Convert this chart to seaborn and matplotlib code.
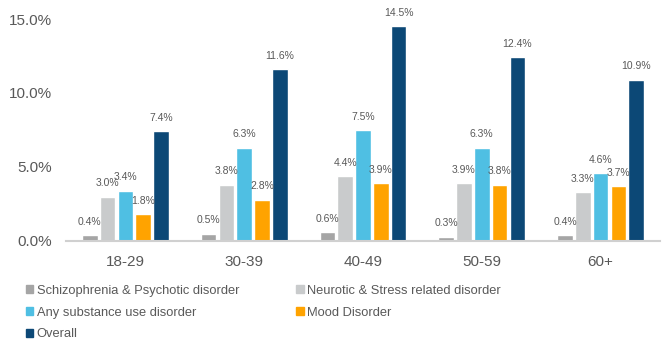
import matplotlib
matplotlib.use("Agg")
import matplotlib.pyplot as plt
import seaborn as sns
import pandas as pd
from matplotlib.patches import Patch

ages = ['18-29', '30-39', '40-49', '50-59', '60+']
series = ['Schizophrenia & Psychotic disorder', 'Neurotic & Stress related disorder',
          'Any substance use disorder', 'Mood Disorder', 'Overall']
schizo = [0.4, 0.5, 0.6, 0.3, 0.4]
neurotic = [3.0, 3.8, 4.4, 3.9, 3.3]
substance = [3.4, 6.3, 7.5, 6.3, 4.6]
mood = [1.8, 2.8, 3.9, 3.8, 3.7]
overall = [7.4, 11.6, 14.5, 12.4, 10.9]
colors = ['#a5a5a5', '#c9cbcc', '#4fbfe3', '#ffa300', '#0c4876']

rows = []
for name, vals in zip(series, [schizo, neurotic, substance, mood, overall]):
    for a, v in zip(ages, vals):
        rows.append({'age': a, 'series': name, 'value': v})
df = pd.DataFrame(rows)

sns.set_style('white')
plt.rcParams['font.family'] = ['Liberation Sans', 'DejaVu Sans']
txt = '#595959'

fig = plt.figure(figsize=(6.63, 3.42), dpi=100)
ax = fig.add_axes([66 / 663, 1 - 241 / 342, 594 / 663, 222 / 342])
sns.barplot(data=df, x='age', y='value', hue='series', hue_order=series,
            palette=colors, saturation=1, width=0.75, gap=0.12, ax=ax, legend=False)

for cont in ax.containers:
    ax.bar_label(cont, fmt='%.1f%%', padding=6, fontsize=7.5, color=txt, clip_on=False)

ax.set_ylim(0, 15)
ax.set_yticks([0, 5, 10, 15])
ax.set_yticklabels(['0.0%', '5.0%', '10.0%', '15.0%'])
ax.set_xlabel('')
ax.set_ylabel('')
ax.tick_params(axis='both', labelsize=11, labelcolor=txt, length=0)
ax.tick_params(axis='x', pad=10)
ax.tick_params(axis='y', pad=10)
for s in ['top', 'right', 'left']:
    ax.spines[s].set_visible(False)
ax.spines['bottom'].set_color('#d0d0d0')
ax.spines['bottom'].set_linewidth(1.5)

handles = [Patch(color=c) for c in colors]
order = [0, 2, 4, 1, 3]
fig.legend([handles[i] for i in order], [series[i] for i in order], ncol=2,
           loc='upper left', bbox_to_anchor=(0.029, 0.186), frameon=False,
           fontsize=9.3, labelcolor=txt, handlelength=0.6, handleheight=0.6,
           handletextpad=0.25, columnspacing=4.4, labelspacing=0.75, borderpad=0)

fig.savefig('out.png', dpi=100)
